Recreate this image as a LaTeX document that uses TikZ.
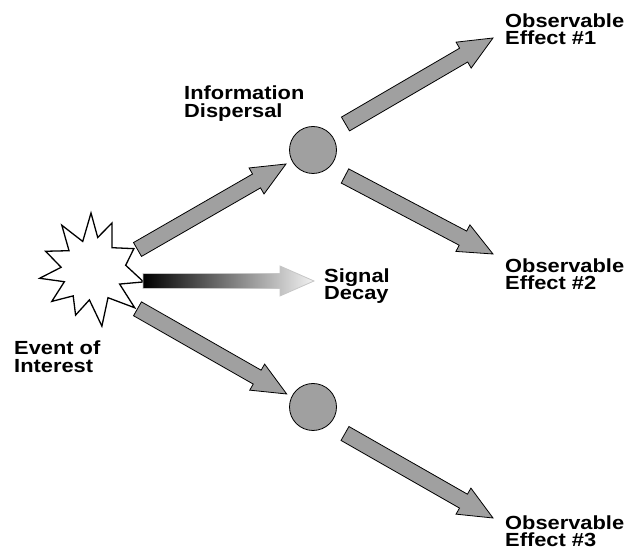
\documentclass[tikz,border=0pt]{standalone}
\usepackage{fontspec}
\setmainfont{Liberation Sans}[FakeStretch=1.15]
\usepackage{tikz}
\usetikzlibrary{calc}
\definecolor{blockGray}{RGB}{160, 160, 160}
\tikzset{
  lbl/.style={anchor=base west, align=left, inner sep=0pt,
    font=\bfseries\fontsize{19}{17.5}\selectfont},
  hub/.style={circle, draw=black, fill=blockGray, line width=0.8pt,
    minimum size=47pt, inner sep=0pt},
  fatarrow/.style={draw=black, fill=blockGray, line width=0.8pt, line join=miter},
  decayarrow/.style={draw=gray!45, left color=black, right color=gray!10, line width=0.8pt}
}
\newcommand{\blockarrow}[5]{%
  \coordinate (h) at ($(#3)!34pt!(#2)$);
  \draw[#1] ($(#2)!#4!90:(#3)$) -- ($(h)!#4!90:(#3)$) -- ($(h)!#5!90:(#3)$) -- (#3)
    -- ($(h)!#5!-90:(#3)$) -- ($(h)!#4!-90:(#3)$) -- ($(#2)!#4!-90:(#3)$) -- cycle;
}

\begin{document}
\begin{tikzpicture}[x=1pt, y=1pt]
  \useasboundingbox (0,0) rectangle (630,553);
  \coordinate (event) at (92,283);
  \draw[black, fill=white, line width=1.3pt, line join=miter, shift={(event)}]
    (124:54) \foreach \a/\r in {108/30, 91/57, 80/33, 67/51, 48/30, 27/47, 8/34,
      -13/53, -27/31, -41.5/57, -60/32, -80/57, -95/30, -110/48, -126/32,
      -142/51, -157/30, -171/53, 175/31, 158/50, 140/30} { -- (\a:\r) } -- cycle;
  \node[hub] (dispUp) at (313,403) {};
  \node[hub] (dispLow) at (313,146) {};

  \coordinate (evUpTail) at (137.5,303.5);
  \coordinate (evUpTip) at (286,389);
  \coordinate (evLowTail) at (137.5,244.2);
  \coordinate (evLowTip) at (286.7,159);
  \coordinate (decayTail) at (143,272);
  \coordinate (decayTip) at (314,272);
  \coordinate (effOneTail) at (345.5,429);
  \coordinate (effOneTip) at (493,515);
  \coordinate (effTwoTail) at (345,377);
  \coordinate (effTwoTip) at (493,299);
  \coordinate (effThreeTail) at (345,119.5);
  \coordinate (effThreeTip) at (493,35);

  \blockarrow{fatarrow}{evUpTail}{evUpTip}{8pt}{15pt}
  \blockarrow{fatarrow}{evLowTail}{evLowTip}{8pt}{15pt}
  \blockarrow{decayarrow}{decayTail}{decayTip}{7.5pt}{15pt}
  \blockarrow{fatarrow}{effOneTail}{effOneTip}{8pt}{15pt}
  \blockarrow{fatarrow}{effTwoTail}{effTwoTip}{8pt}{15pt}
  \blockarrow{fatarrow}{effThreeTail}{effThreeTip}{8pt}{15pt}

  \node[lbl] (eventLbl) at (14,180.7) {Event of\\Interest};
  \node[lbl] (info) at (184,435.7) {Information\\Dispersal};
  \node[lbl] (decay) at (324,253) {Signal\\Decay};
  \node[lbl] (effOne) at (505,508) {Observable\\Effect \#1};
  \node[lbl] (effTwo) at (505,263) {Observable\\Effect \#2};
  \node[lbl] (effThree) at (505,6.3) {Observable\\Effect \#3};
\end{tikzpicture}
\end{document}
